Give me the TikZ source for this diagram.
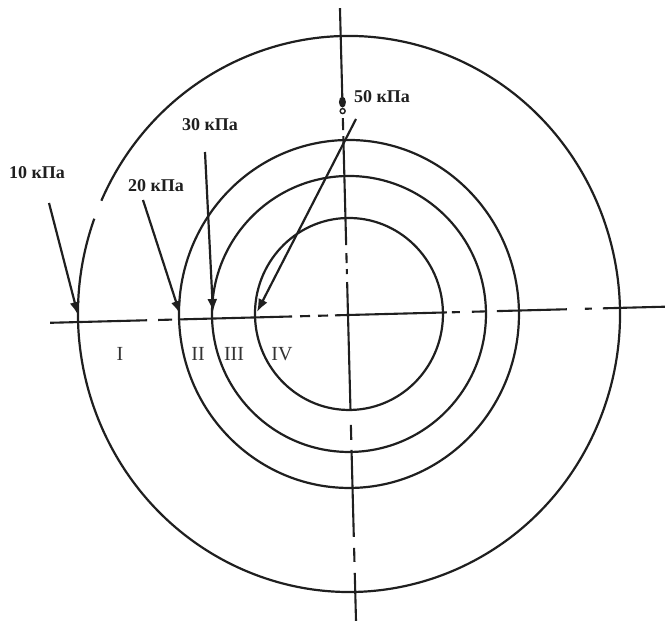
\documentclass[tikz,border=0pt]{standalone}
\usepackage{fontspec}
\setmainfont{Liberation Serif}
\usetikzlibrary{arrows.meta}
\begin{document}
\begin{tikzpicture}[x=1pt,y=-1pt,
  ring/.style={line width=2.2pt, black!88},
  axisline/.style={line width=2.1pt, black!88},
  ptr/.style={line width=2.2pt, black!88, -{Latex[length=13pt,width=10pt]}},
  lbl/.style={font=\fontsize{18}{20}\selectfont\bfseries, inner sep=0pt, text=black!88},
  zone/.style={font=\fontsize{20}{22}\selectfont, inner sep=0pt, text=black!80}]
\useasboundingbox (0,0) rectangle (665,621);
\begin{scope}[rotate around={1.5:(348,315)}]
  % concentric rings (outer one with a small break at upper left)
  \draw[ring] (349,314) ++(205.5:271 and 278) arc [start angle=205.5, end angle=561.5, x radius=271, y radius=278];
  \draw[ring] (349,314) ellipse [x radius=170, y radius=174];
  \draw[ring] (349,314) ellipse [x radius=137, y radius=138];
  \draw[ring] (349,314) ellipse [x radius=94, y radius=96];
  % horizontal centre line
  \foreach \a/\b in {50/147,158/172,180/292,300/310,318/328,335/447,452/460,472/487,497/567,585/592,603/665}
    \draw[axisline] (\a,315) -- (\b,315);
  % vertical centre line
  \foreach \a/\b in {8/97,118/130,136/245,253/263,269/274,282/410,425/440,450/537,548/562,573/621}
    \draw[axisline] (348,\a) -- (348,\b);
  % marker at 50 kPa
  \fill[black!88] (348,102) ellipse [x radius=3.5, y radius=5.5];
  \draw[line width=1.4pt, black!88] (348,111) circle (2.5);
\end{scope}
% labels
\node[lbl] (l10) at (37,173) {10 кПа};
\node[lbl] (l20) at (156,186) {20 кПа};
\node[lbl] (l30) at (210,125) {30 кПа};
\node[lbl] (l50) at (382,97) {50 кПа};
% pointer ends
\coordinate (s10) at (49,203);  \coordinate (e10) at (78,315);
\coordinate (s20) at (143,200); \coordinate (e20) at (180,314);
\coordinate (s30) at (205,152); \coordinate (e30) at (213,312);
\coordinate (s50) at (356,119); \coordinate (e50) at (257,312);
\draw[ptr] (s10) -- (e10);
\draw[ptr] (s20) -- (e20);
\draw[ptr] (s30) -- (e30);
\draw[ptr] (s50) -- (e50);
% zones
\node[zone] (z1) at (120,354) {I};
\node[zone] (z2) at (198,354) {II};
\node[zone] (z3) at (234,354) {III};
\node[zone] (z4) at (282,354) {IV};
\end{tikzpicture}
\end{document}
